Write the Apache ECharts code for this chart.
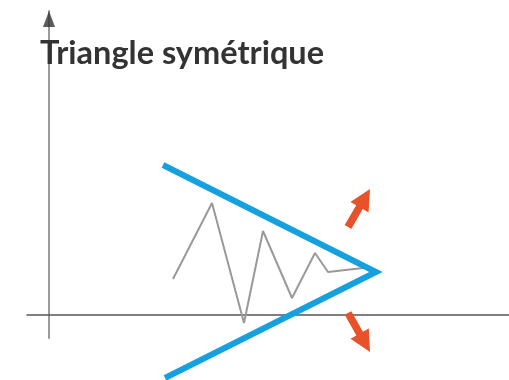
<!DOCTYPE html>
<html>
<head>
<meta charset="utf-8">
<script src="https://cdn.jsdelivr.net/npm/echarts@6/dist/echarts.min.js"></script>
<style>
  html, body { margin: 0; padding: 0; background: #fff; }
  #chart { width: 509px; height: 380px; }
</style>
</head>
<body>
<div id="chart"></div>
<script>
// prix (zigzag gris)
const priceX = [124, 163, 195, 214, 243, 266, 279, 314]
const priceY = [36, 112, -8, 84, 17, 62, 43, 47]
// bornes du triangle : haut -> sommet -> bas
const triX = [114, 327, 116]
const triY = [150, 43, -63]
// flèches de cassure [x départ, y départ, x pointe, y pointe]
const breakArrows = [
  [299, 88, 321, 126],
  [299, 2, 321, -37],
]
const titleText = 'Triangle symétrique'

const chart = echarts.init(document.getElementById('chart'))

const zip = (xs, ys) => xs.map((x, i) => [x, ys[i]])

chart.setOption({
  animation: false,
  grid: { left: 27, right: 0, top: 11, bottom: 42 },
  xAxis: {
    type: 'value',
    min: -22,
    max: 460,
    axisLine: { onZero: true, lineStyle: { color: '#555', width: 1.5 } },
    axisTick: { show: false },
    axisLabel: { show: false },
    splitLine: { show: false },
  },
  yAxis: {
    type: 'value',
    min: -23,
    max: 304,
    axisLine: { onZero: true, lineStyle: { color: '#9a9a9a', width: 2 } },
    axisTick: { show: false },
    axisLabel: { show: false },
    splitLine: { show: false },
  },
  graphic: [
    {
      type: 'text',
      left: 40,
      top: 37,
      z: 10,
      style: {
        text: titleText,
        font: 'bold 32.5px Lato',
        fill: '#333',
      },
    },
  ],
  series: [
    {
      // pointe de l'axe vertical
      type: 'scatter',
      data: [[0, 296]],
      symbol: 'triangle',
      symbolSize: [12, 16],
      itemStyle: { color: '#333' },
      silent: true,
      z: 3,
    },
    {
      type: 'line',
      data: zip(priceX, priceY),
      showSymbol: false,
      lineStyle: { color: '#999', width: 2 },
      clip: false,
      z: 4,
    },
    {
      type: 'line',
      data: zip(triX, triY),
      showSymbol: false,
      lineStyle: { color: '#15a0e0', width: 6, join: 'miter', cap: 'butt' },
      clip: false,
      z: 5,
    },
    {
      type: 'custom',
      data: breakArrows,
      clip: false,
      z: 6,
      renderItem: function (params, api) {
        const a = api.coord([api.value(0), api.value(1)])
        const b = api.coord([api.value(2), api.value(3)])
        const dx = b[0] - a[0], dy = b[1] - a[1]
        const len = Math.sqrt(dx * dx + dy * dy)
        const ux = dx / len, uy = dy / len
        const nx = -uy, ny = ux
        const headLen = 21, headW = 10.5, shaftW = 3.8
        const hx = b[0] - ux * headLen, hy = b[1] - uy * headLen
        const pts = [
          [a[0] + nx * shaftW, a[1] + ny * shaftW],
          [hx + nx * shaftW, hy + ny * shaftW],
          [hx + nx * headW, hy + ny * headW],
          b,
          [hx - nx * headW, hy - ny * headW],
          [hx - nx * shaftW, hy - ny * shaftW],
          [a[0] - nx * shaftW, a[1] - ny * shaftW],
        ]
        return {
          type: 'polygon',
          shape: { points: pts },
          style: { fill: '#e8522b' },
        }
      },
    },
  ],
})
</script>
</body>
</html>
